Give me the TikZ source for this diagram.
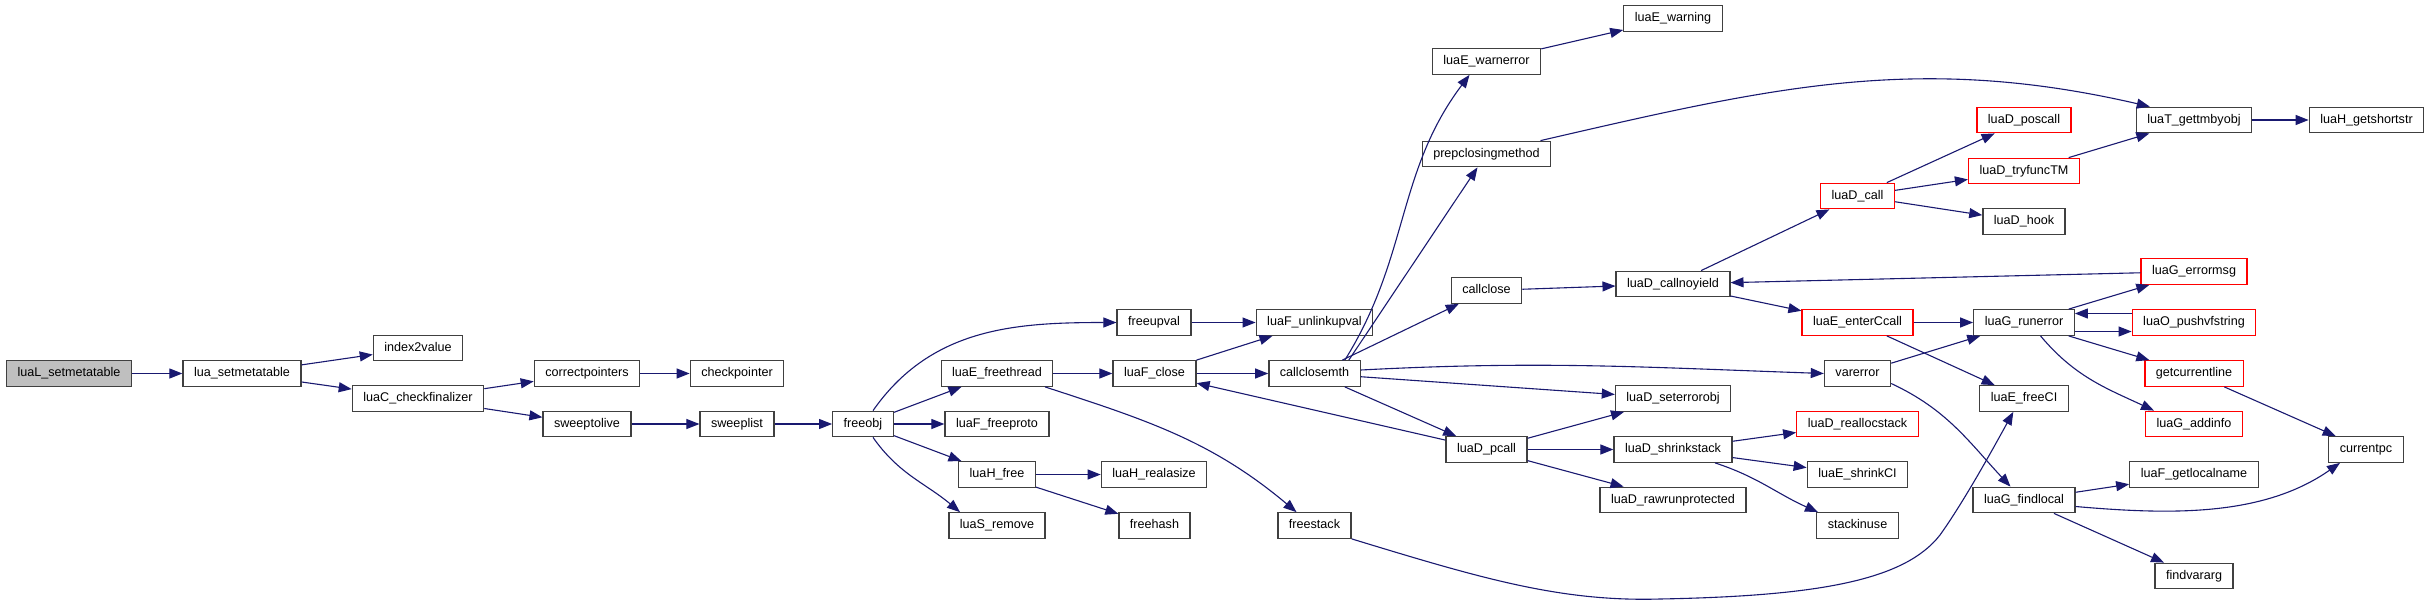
\documentclass[tikz,border=0pt]{standalone}
\usepackage{fontspec}
\setmainfont{Liberation Sans}
\usepackage{tikz}
\usetikzlibrary{arrows.meta}
\usepackage{xcolor}
\definecolor{callblue}{HTML}{191970}
\definecolor{boxline}{HTML}{404040}
\tikzset{
  fnbox/.style={draw=boxline,line width=1.3pt,rectangle,minimum height=25.5pt,inner xsep=11pt,inner ysep=0pt,
    font=\fontsize{12.6}{15}\selectfont,text height=9.3pt,text depth=2.7pt},
  fnroot/.style={fnbox,fill=black!25},
  fnred/.style={fnbox,draw=red},
  callpath/.style={draw=callblue,line width=1.1pt,->,>={Triangle[length=13pt,width=10pt]}},
  every edge/.style={callpath},
}
\begin{document}
\begin{tikzpicture}[x=1pt,y=-1pt]
\useasboundingbox (0,0) rectangle (2429,608);

\node[fnroot] (lsetmt) at (69,373.5) {luaL\_setmetatable};
\node[fnbox] (setmt) at (242,373.5) {lua\_setmetatable};
\node[fnbox] (idx2v) at (418,348) {index2value};
\node[fnbox] (chkfin) at (418,398.5) {luaC\_checkfinalizer};
\node[fnbox] (corrptr) at (587,373.5) {correctpointers};
\node[fnbox] (chkptr) at (737,373.5) {checkpointer};
\node[fnbox] (sweeplive) at (587,424) {sweeptolive};
\node[fnbox] (sweeplist) at (737,424) {sweeplist};
\node[fnbox] (freeobj) at (863,424) {freeobj};
\node[fnbox] (freethr) at (997,373.5) {luaE\_freethread};
\node[fnbox] (freeproto) at (997,424) {luaF\_freeproto};
\node[fnbox] (hfree) at (997,474.5) {luaH\_free};
\node[fnbox] (sremove) at (997,525.5) {luaS\_remove};
\node[fnbox] (freeupv) at (1154,322.5) {freeupval};
\node[fnbox] (fclose) at (1154.5,373.5) {luaF\_close};
\node[fnbox] (realasize) at (1154,474.5) {luaH\_realasize};
\node[fnbox] (freehash) at (1154.5,525.5) {freehash};
\node[fnbox] (unlinkupv) at (1314.5,322.5) {luaF\_unlinkupval};
\node[fnbox] (clsmth) at (1314.5,373.5) {callclosemth};
\node[fnbox] (freestack) at (1314.5,525.5) {freestack};
\node[fnbox] (warnerr) at (1486.5,61.5) {luaE\_warnerror};
\node[fnbox] (prepcls) at (1486.5,154) {prepclosingmethod};
\node[fnbox] (callclose) at (1486.5,290.5) {callclose};
\node[fnbox] (pcall) at (1486.5,449.5) {luaD\_pcall};
\node[fnbox] (warning) at (1673,18.5) {luaE\_warning};
\node[fnbox] (callnoy) at (1673,284) {luaD\_callnoyield};
\node[fnbox] (seterr) at (1673,398.5) {luaD\_seterrorobj};
\node[fnbox] (shrink) at (1673,449.5) {luaD\_shrinkstack};
\node[fnbox] (rawrun) at (1673,500) {luaD\_rawrunprotected};
\node[fnred] (dcall) at (1857.5,196) {luaD\_call};
\node[fnred] (enterC) at (1857.5,322.5) {luaE\_enterCcall};
\node[fnbox] (varerr) at (1857.5,373.5) {varerror};
\node[fnred] (realloc) at (1857.5,424) {luaD\_reallocstack};
\node[fnbox] (shrinkCI) at (1857.5,474.5) {luaE\_shrinkCI};
\node[fnbox] (stackuse) at (1857.5,525.5) {stackinuse};
\node[fnred] (poscall) at (2024,120) {luaD\_poscall};
\node[fnred] (tryfunc) at (2024,171) {luaD\_tryfuncTM};
\node[fnbox] (hook) at (2024,221.5) {luaD\_hook};
\node[fnbox] (runerr) at (2024,322.5) {luaG\_runerror};
\node[fnbox] (freeCI) at (2024,398.5) {luaE\_freeCI};
\node[fnbox] (findlocal) at (2024,500) {luaG\_findlocal};
\node[fnbox] (gettm) at (2194,120) {luaT\_gettmbyobj};
\node[fnred] (errmsg) at (2194,271.5) {luaG\_errormsg};
\node[fnred] (pushvf) at (2194,322.5) {luaO\_pushvfstring};
\node[fnred] (curline) at (2194,373.5) {getcurrentline};
\node[fnred] (addinfo) at (2194,424) {luaG\_addinfo};
\node[fnbox] (getlocal) at (2194,474.5) {luaF\_getlocalname};
\node[fnbox] (findvararg) at (2194,576) {findvararg};
\node[fnbox] (getshort) at (2366.5,120) {luaH\_getshortstr};
\node[fnbox] (currpc) at (2366,449.5) {currentpc};

\path
(lsetmt) edge (setmt)
(setmt) edge (idx2v)
(setmt) edge (chkfin)
(chkfin) edge (corrptr)
(chkfin) edge (sweeplive)
(corrptr) edge (chkptr)
(sweeplive) edge (sweeplist)
(sweeplist) edge (freeobj)
([xshift=10pt]freeobj.north) edge[out=55,in=180] (freeupv.west)
(freeobj) edge (freethr)
(freeobj) edge (freeproto)
(freeobj) edge (hfree)
([xshift=10pt]freeobj.south) edge[out=-55,in=140] ([xshift=-37pt]sremove.north)
(freeupv) edge (unlinkupv)
(freethr) edge (fclose)
([xshift=48pt]freethr.south) edge[out=-18,in=140] ([xshift=-18pt]freestack.north)
(hfree) edge (realasize)
(hfree) edge (freehash)
(fclose) edge (unlinkupv)
(fclose) edge (clsmth)
([xshift=-16pt]clsmth.north east) edge[out=58,in=-127] ([xshift=-17pt]warnerr.south)
([xshift=-12pt]clsmth.north east) edge ([xshift=-9pt]prepcls.south)
(clsmth) edge (callclose)
([yshift=3.5pt]clsmth.east) edge[out=3,in=178] (varerr.west)
(clsmth) edge (seterr)
(clsmth) edge (pcall)
(pcall) edge (fclose)
(pcall) edge (seterr)
(pcall) edge (shrink)
(pcall) edge (rawrun)
(warnerr) edge (warning)
([xshift=54pt]prepcls.north) edge[out=13,in=167] ([xshift=14pt]gettm.north west)
(callclose) edge (callnoy)
(callnoy) edge (dcall)
(callnoy) edge (enterC)
(dcall) edge (poscall)
(dcall) edge (tryfunc)
(dcall) edge (hook)
(tryfunc) edge (gettm)
(gettm) edge (getshort)
(errmsg) edge (callnoy)
(enterC) edge (runerr)
(enterC) edge (freeCI)
(varerr) edge (runerr)
([yshift=-10pt]varerr.east) edge[out=-25,in=133] ([xshift=-13.5pt]findlocal.north)
(runerr) edge (errmsg)
([yshift=-9pt]runerr.east) edge ([yshift=-9pt]pushvf.west)
([yshift=9pt]pushvf.west) edge ([yshift=9pt]runerr.east)
(runerr) edge (curline)
([xshift=16.5pt]runerr.south) edge[out=-50,in=155] ([xshift=-40pt]addinfo.north)
(curline) edge (currpc)
(findlocal) edge (getlocal)
([yshift=-6.5pt]findlocal.east) edge[out=-5,in=-145,looseness=0.9] ([xshift=-26pt]currpc.south)
(findlocal) edge (findvararg)
(shrink) edge (realloc)
(shrink) edge (shrinkCI)
([xshift=42pt]shrink.south) edge[out=-18,in=156] ([xshift=-39.5pt]stackuse.north);

\draw[callpath] (freestack.south east) .. controls (1480,578) and (1560,602) .. (1660,599)
  .. controls (1820,596) and (1905,580) .. (1940,535)
  .. controls (1965,500) and (1995,445) .. ([xshift=-10.7pt]freeCI.south);

\end{tikzpicture}
\end{document}
